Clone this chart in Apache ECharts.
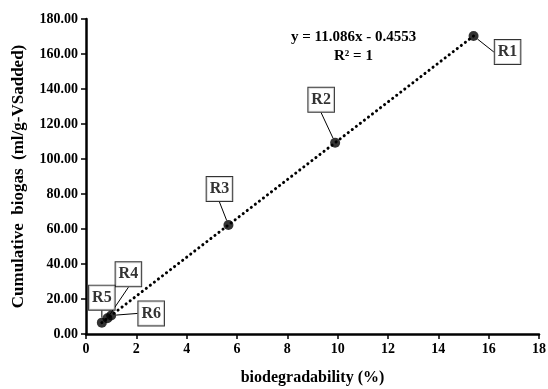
<!DOCTYPE html>
<html><head><meta charset="utf-8">
<script src="https://cdn.jsdelivr.net/npm/echarts@6/dist/echarts.min.js"></script>
<style>html,body{margin:0;padding:0;background:#fff}#c{width:548px;height:389px}</style>
</head><body><div id="c"></div>
<script>
var names = ['R1','R2','R3','R4','R5','R6'];
var xVals = [15.4, 9.9, 5.66, 0.85, 0.63, 1.0];
var yVals = [170.3, 109.3, 62.3, 9.0, 6.5, 10.6];
var yTicks = [0, 20, 40, 60, 80, 100, 120, 140, 160, 180];
var xTicks = [0, 2, 4, 6, 8, 10, 12, 14, 16, 18];
var equation = ['y = 11.086x - 0.4553', 'R² = 1'];
// label offsets (layout only)
var offs = {R1:[34,16], R2:[-14,-43], R3:[-9,-36], R4:[21,-44], R5:[0,-25], R6:[40,-2]};

var pts = names.map(function(n,i){return {name:n, value:[xVals[i], yVals[i]]};});
var sorted = pts.map(function(p){return p.value;}).slice().sort(function(a,b){return a[0]-b[0];});

var F = '"Liberation Serif", "Times New Roman", serif';
var chart = echarts.init(document.getElementById('c'), null, {renderer:'canvas'});
chart.setOption({
  animation:false,
  grid:{left:86, right:9, top:19, bottom:55, containLabel:false, outerBoundsMode:'none'},
  xAxis:{type:'value', min:0, max:18, interval:2,
    name:'biodegradability (%)', nameLocation:'middle', nameGap:36,
    nameTextStyle:{fontFamily:F, fontWeight:'bold', fontSize:16, color:'#000'},
    axisLine:{lineStyle:{color:'#000', width:2.5}},
    axisTick:{show:true, length:5, lineStyle:{color:'#000', width:1.5}},
    axisLabel:{fontFamily:F, fontWeight:'bold', fontSize:14, color:'#000', margin:8,
      formatter:function(v){return xTicks.indexOf(v)>=0? String(v):'';}},
    splitLine:{show:false}},
  yAxis:{type:'value', min:0, max:180, interval:20,
    name:'Cumulative  biogas  (ml/g-VSadded)', nameLocation:'middle', nameGap:59, nameRotate:90,
    nameTextStyle:{fontFamily:F, fontWeight:'bold', fontSize:17, color:'#000'},
    axisLine:{show:true, lineStyle:{color:'#000', width:2.5}},
    axisTick:{show:true, length:5, lineStyle:{color:'#000', width:1.5}},
    axisLabel:{fontFamily:F, fontWeight:'bold', fontSize:14, color:'#000', margin:8,
      formatter:function(v){return yTicks.indexOf(v)>=0? v.toFixed(2):'';}},
    splitLine:{show:false}},
  graphic:[{type:'text', left:291, top:30, style:{text:equation[0], font:'bold 15px '+F, fill:'#000'}},
           {type:'text', left:334, top:49, style:{text:equation[1], font:'bold 15px '+F, fill:'#000'}}],
  series:[
    {type:'line', data:sorted, symbol:'none', silent:true, z:1,
     lineStyle:{color:'#000', width:3, type:[0.1,5], cap:'round'}},
    {type:'scatter', data:pts, symbol:'circle', symbolSize:10, z:3,
     itemStyle:{color:'#000'},
     label:{show:true, formatter:'{b}', position:'inside', fontFamily:F, fontWeight:'bold', fontSize:16,
       color:'#000', backgroundColor:'#fff', borderColor:'#000', borderWidth:1,
       padding:[5,3,3,3]},
     labelLine:{show:true, lineStyle:{color:'#000', width:1}},
     labelLayout:function(p){var o=offs[pts[p.dataIndex].name]; return {dx:o[0], dy:o[1]};}}
  ]
});
</script></body></html>
